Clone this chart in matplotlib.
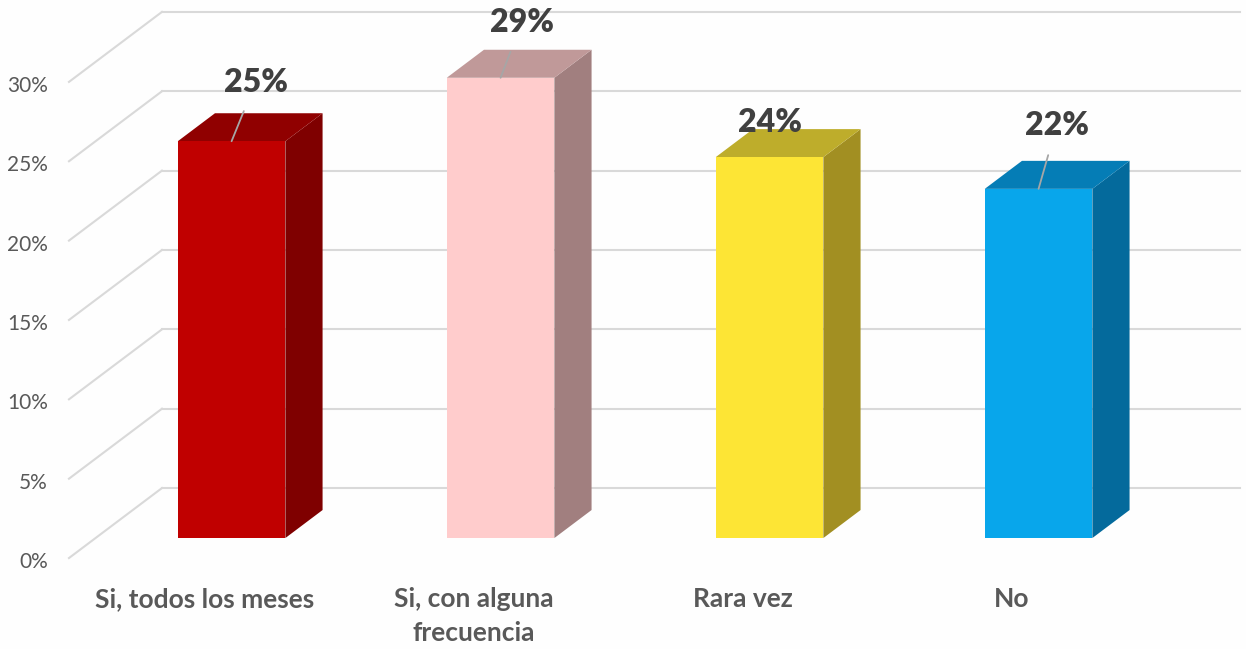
import matplotlib.pyplot as plt

categories = ["Si, todos los meses", "Si, con alguna\nfrecuencia", "Rara vez", "No"]
values = [25, 29, 24, 22]
value_labels = ["25%", "29%", "24%", "22%"]
yticks = [0, 5, 10, 15, 20, 25, 30]

front_colors = ["#C00000", "#FFCCCC", "#FDE535", "#08A6EB"]
top_colors = ["#900000", "#C09999", "#BEAD2B", "#057DB6"]
side_colors = ["#7F0000", "#A17F7F", "#A28F22", "#046A9C"]

# label offsets from the front top of each bar (pixels)
label_offsets = [(24, 59), (21, 55), (0, 35), (18, 63)]

plt.rcParams['font.family'] = ['Lato', 'DejaVu Sans']

fig = plt.figure(figsize=(12.46, 6.49), dpi=100)
fig.patch.set_facecolor('#FEFEFE')
ax = fig.add_axes([0, 0, 1, 1])
ax.set_xlim(-0.762, 3.870)
ax.set_ylim(-5.73, 35.16)
ax.axis('off')

# oblique projection: full depth of the box
DX, DY = 0.3457, 4.41
D0, D1 = 0.286, 0.686
BW = 0.40
wall_x = -0.5056
right_x = 3.848
grid_c = '#D9D9D9'

for t in yticks:
    ax.plot([wall_x, wall_x + DX], [t, t + DY], color=grid_c, lw=1.5, zorder=1)
    ax.plot([wall_x + DX, right_x], [t + DY, t + DY], color=grid_c, lw=1.5, zorder=1)
    ax.text(-0.584, t - 0.25, f"{t}%", ha='right', va='center',
            fontsize=15, color='#595959')

dx, dy = (D1 - D0) * DX, (D1 - D0) * DY
for i, v in enumerate(values):
    xl = i + D0 * DX - BW / 2
    xr = xl + BW
    yb = D0 * DY
    yt = yb + v
    ax.fill([xr, xr + dx, xr + dx, xr], [yb, yb + dy, yt + dy, yt],
            color=side_colors[i], zorder=3, lw=0)
    ax.fill([xl, xr, xr + dx, xl + dx], [yt, yt, yt + dy, yt + dy],
            color=top_colors[i], zorder=3, lw=0)
    ax.fill([xl, xr, xr, xl], [yb, yb, yt, yt],
            color=front_colors[i], zorder=4, lw=0)

    ox, oy = label_offsets[i]
    arrow = None
    if oy > 40:
        arrow = dict(arrowstyle='-', color='#A6A6A6', lw=1.3,
                     shrinkA=9, shrinkB=0)
    ax.annotate(value_labels[i], xy=(i + D0 * DX, yt), xytext=(ox, oy),
                textcoords='offset pixels', ha='center', va='center',
                fontsize=23, fontweight='heavy', color='#404040',
                arrowprops=arrow, zorder=5)

    ax.text(i, -1.85, categories[i], ha='center', va='top', fontsize=19,
            fontweight='bold', color='#595959', linespacing=1.48)

fig.savefig('out.png', dpi=100, facecolor=fig.get_facecolor())
